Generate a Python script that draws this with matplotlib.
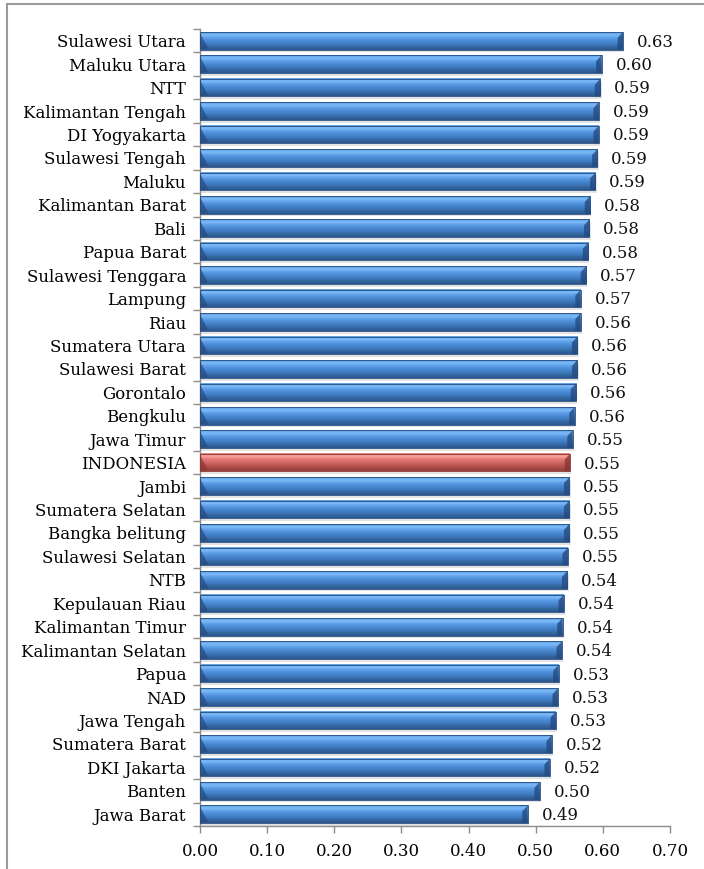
import numpy as np
import matplotlib
matplotlib.use("Agg")
from matplotlib import pyplot as plt
from matplotlib.colors import LinearSegmentedColormap
from matplotlib.lines import Line2D
from matplotlib.patches import Polygon, Rectangle

# provinces, top to bottom
provinces = ["Sulawesi Utara", "Maluku Utara", "NTT", "Kalimantan Tengah",
             "DI Yogyakarta", "Sulawesi Tengah", "Maluku", "Kalimantan Barat",
             "Bali", "Papua Barat", "Sulawesi Tenggara", "Lampung", "Riau",
             "Sumatera Utara", "Sulawesi Barat", "Gorontalo", "Bengkulu",
             "Jawa Timur", "INDONESIA", "Jambi", "Sumatera Selatan",
             "Bangka belitung", "Sulawesi Selatan", "NTB", "Kepulauan Riau",
             "Kalimantan Timur", "Kalimantan Selatan", "Papua", "NAD",
             "Jawa Tengah", "Sumatera Barat", "DKI Jakarta", "Banten",
             "Jawa Barat"]
values = [0.630, 0.598, 0.596, 0.594, 0.594, 0.592, 0.589, 0.581, 0.580,
          0.578, 0.575, 0.567, 0.567, 0.562, 0.562, 0.560, 0.558, 0.555,
          0.551, 0.550, 0.550, 0.550, 0.548, 0.547, 0.542, 0.540, 0.539,
          0.534, 0.533, 0.530, 0.524, 0.521, 0.506, 0.488]
# value labels as printed on the chart
value_labels = ["0.63", "0.60", "0.59", "0.59", "0.59", "0.59", "0.59", "0.58",
                "0.58", "0.58", "0.57", "0.57", "0.56", "0.56", "0.56", "0.56",
                "0.56", "0.55", "0.55", "0.55", "0.55", "0.55", "0.55", "0.54",
                "0.54", "0.54", "0.54", "0.53", "0.53", "0.53", "0.52", "0.52",
                "0.50", "0.49"]
highlight = "INDONESIA"
xticks = [0.0, 0.1, 0.2, 0.3, 0.4, 0.5, 0.6, 0.7]

blue = LinearSegmentedColormap.from_list(
    "blue", ["#2b5690", "#34679f", "#3f7cc2", "#4a8ad3", "#5b9de6", "#7dbcf8", "#5f9ee0"])
red = LinearSegmentedColormap.from_list(
    "red", ["#96403c", "#a84a46", "#c05855", "#d46a66", "#e47c78", "#f7a3a0", "#e08480"])

plt.rcParams['font.family'] = ['DejaVu Serif']

fig = plt.figure(figsize=(7.04, 8.69), dpi=100)
ax = fig.add_axes([200/704, 1-826/869, 470/704, (826-29)/869])

n = len(provinces)
h = 0.75
grad = np.linspace(0, 1, 64).reshape(-1, 1)
for i, (name, v, lab) in enumerate(zip(provinces, values, value_labels)):
    y = n - 1 - i
    cmap = red if name == highlight else blue
    edge = "#8a3431" if name == highlight else "#244a80"
    # soft shadow
    ax.add_patch(Rectangle((0.002, y - h/2 - 0.12), v, h, color="#b0b0b0",
                           alpha=0.35, lw=0, zorder=1))
    ax.imshow(grad, extent=[0, v, y - h/2, y + h/2], origin="lower",
              aspect="auto", cmap=cmap, zorder=2, interpolation="bilinear")
    # bevel at the ends
    d = 0.008
    ax.add_patch(Polygon([(v - d, y + h/2 - 0.25), (v, y + h/2), (v, y - h/2),
                          (v - d, y - h/2)], closed=True, color=edge,
                         alpha=0.8, lw=0, zorder=3))
    ax.add_patch(Polygon([(0, y + h/2 - 0.05), (0.012, y - h/2 + 0.05), (0, y - h/2)],
                         closed=True, color=edge, alpha=0.7, lw=0, zorder=3))
    ax.add_patch(Rectangle((0, y - h/2), v, h, fill=False, ec=edge, lw=0.6, zorder=4))
    ax.annotate(lab, (v, y), xytext=(10, -1), textcoords="offset points",
                va="center", ha="left", fontsize=12, color="#111111")

ax.set_xlim(0, 0.7)
ax.set_ylim(-0.5, n - 0.5)
ax.set_xticks(xticks)
ax.set_xticklabels([f"{t:.2f}" for t in xticks], fontsize=12)
ax.set_yticks(np.arange(n))
ax.set_yticklabels(provinces[::-1], fontsize=12)
ax.set_yticks(np.arange(n + 1) - 0.5, minor=True)
ax.tick_params(axis="y", which="major", length=0, pad=10)
ax.tick_params(axis="y", which="minor", length=5, color="#8c8c8c", width=1)
ax.tick_params(axis="x", length=5, color="#8c8c8c", width=1, pad=7)
for s in ["top", "right"]:
    ax.spines[s].set_visible(False)
for s in ["left", "bottom"]:
    ax.spines[s].set_color("#8c8c8c")
    ax.spines[s].set_linewidth(1)

# chart border
bx, by = 7/704, 1 - 4/869
fig.add_artist(Line2D([bx, bx], [0, by], color="#9a9a9a", lw=1.5))
fig.add_artist(Line2D([bx, 1], [by, by], color="#9a9a9a", lw=1.5))

fig.savefig("out.png", dpi=100)
